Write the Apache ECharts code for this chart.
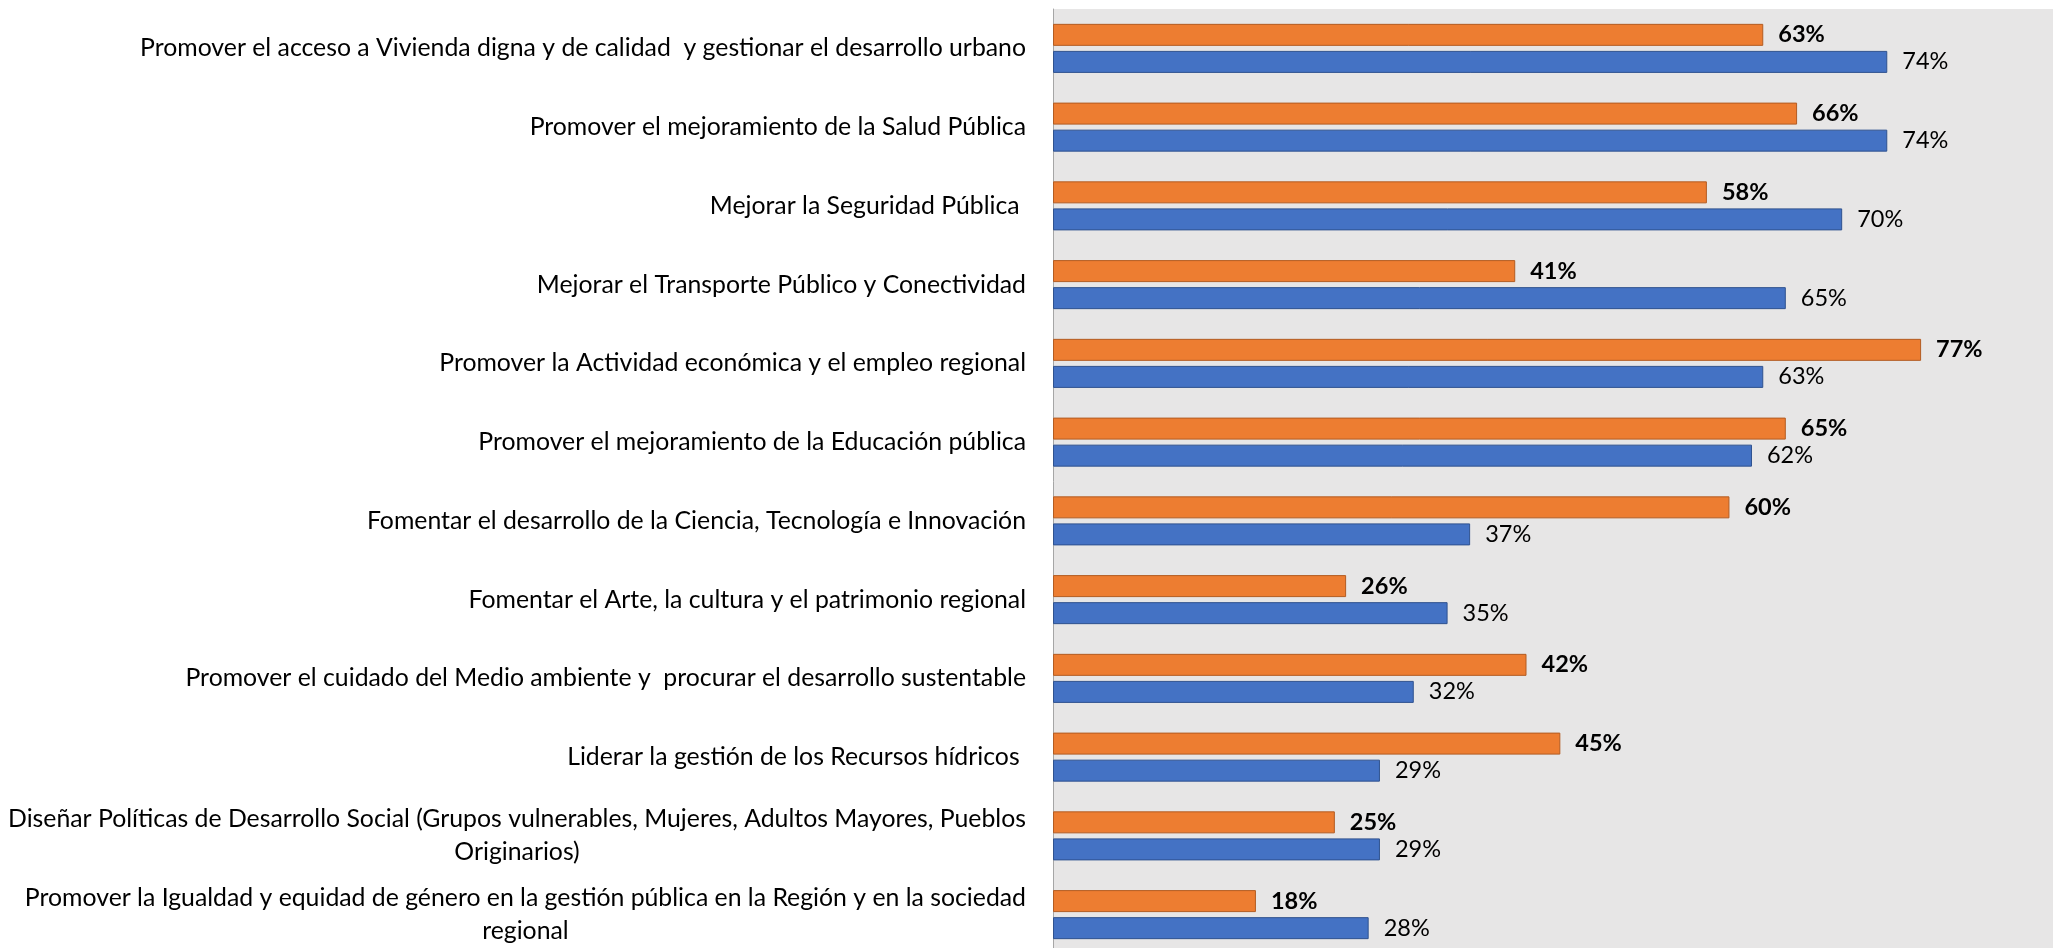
<!DOCTYPE html>
<html>
<head>
<meta charset="utf-8">
<script src="https://cdn.jsdelivr.net/npm/echarts@6/dist/echarts.min.js"></script>
<style>
  html, body { margin: 0; padding: 0; background: #fff; overflow: hidden; }
  #chart { width: 2053px; height: 954px; }
</style>
</head>
<body>
<div id="chart"></div>
<script>
// categories, top to bottom
var categories = [
  'Promover el acceso a Vivienda digna y de calidad  y gestionar el desarrollo urbano',
  'Promover el mejoramiento de la Salud Pública',
  'Mejorar la Seguridad Pública ',
  'Mejorar el Transporte Público y Conectividad',
  'Promover la Actividad económica y el empleo regional',
  'Promover el mejoramiento de la Educación pública',
  'Fomentar el desarrollo de la Ciencia, Tecnología e Innovación',
  'Fomentar el Arte, la cultura y el patrimonio regional',
  'Promover el cuidado del Medio ambiente y  procurar el desarrollo sustentable',
  'Liderar la gestión de los Recursos hídricos ',
  'Diseñar Políticas de Desarrollo Social (Grupos vulnerables, Mujeres, Adultos Mayores, Pueblos\nOriginarios)',
  'Promover la Igualdad y equidad de género en la gestión pública en la Región y en la sociedad\nregional'
]
// orange bars (bold labels)
var seriesOrange = [63, 66, 58, 41, 77, 65, 60, 26, 42, 45, 25, 18]
// blue bars
var seriesBlue = [74, 74, 70, 65, 63, 62, 37, 35, 32, 29, 29, 28]

var font = 'Lato'

// the plot area runs a few px past the bottom of the picture, so the div is a bit taller than the window
var chart = echarts.init(document.getElementById('chart'))
chart.setOption({
  animation: false,
  grid: {
    left: 1053,
    right: 0,
    top: 9,
    bottom: 0,
    show: true,
    backgroundColor: '#e7e6e6',
    borderWidth: 0
  },
  xAxis: {
    type: 'value',
    min: 0,
    max: 88.7,
    show: false
  },
  yAxis: {
    type: 'category',
    inverse: true,
    data: categories,
    axisLine: { show: true, lineStyle: { color: '#a6a6a6', width: 1 } },
    axisTick: { show: false },
    axisLabel: {
      margin: 27,
      align: 'right',
      formatter: function (v) {
        return v.split('\n').map(function (l) { return '{c|' + l + '}' }).join('\n')
      },
      rich: {
        c: {
          align: 'center',
          fontFamily: font,
          fontSize: 24.8,
          lineHeight: 33,
          color: '#000'
        }
      }
    }
  },
  series: [
    {
      name: 'Serie 1',
      type: 'bar',
      data: seriesOrange,
      barWidth: 22,
      barGap: '23%',
      itemStyle: { color: '#ed7d31', borderColor: '#b35c22', borderWidth: 1 },
      label: {
        show: true,
        position: 'right',
        distance: 15,
        formatter: '{c}%',
        fontFamily: font,
        fontSize: 23.5,
        fontWeight: 'bold',
        color: '#000'
      }
    },
    {
      name: 'Serie 2',
      type: 'bar',
      data: seriesBlue,
      barWidth: 22,
      itemStyle: { color: '#4472c4', borderColor: '#2f528f', borderWidth: 1 },
      label: {
        show: true,
        position: 'right',
        distance: 15,
        formatter: '{c}%',
        fontFamily: font,
        fontSize: 23.5,
        color: '#000'
      }
    }
  ]
})
</script>
</body>
</html>
